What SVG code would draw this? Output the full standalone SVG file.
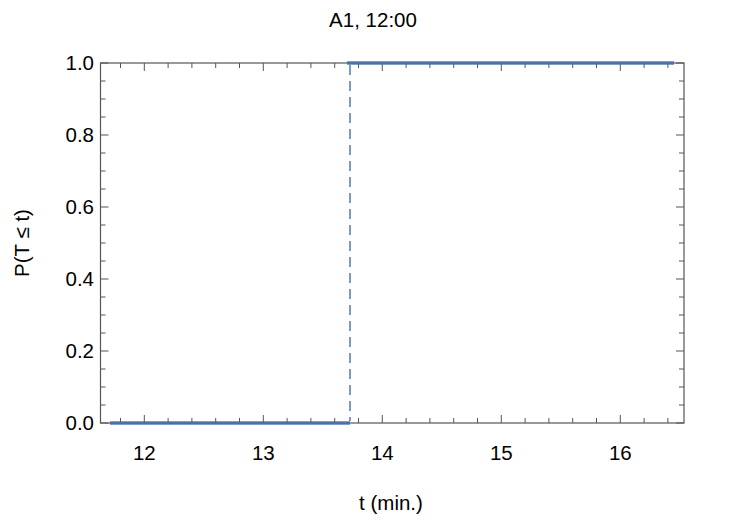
<svg xmlns="http://www.w3.org/2000/svg" width="747" height="523" viewBox="0 0 747 523">
<style>
text{font-family:"Liberation Sans",Arial,sans-serif;font-size:20.5px;fill:#000}
.tk{stroke:#555;stroke-width:1}
.fr{fill:none;stroke:#555;stroke-width:1.2}
.cdf{stroke:#3f6aa8;stroke-width:3.5;fill:none;opacity:0.85}
</style>
<rect width="747" height="523" fill="#fff"/>
<g id="frame">
<rect class="fr" x="100.5" y="63" width="583.5" height="360"/>
<path class="tk" d="M144.3 423v-8M263.3 423v-8M382.3 423v-8M501.3 423v-8M620.3 423v-8M144.3 63v8M263.3 63v8M382.3 63v8M501.3 63v8M620.3 63v8
M120.5 423v-5M168.1 423v-5M191.9 423v-5M215.7 423v-5M239.5 423v-5M287.1 423v-5M310.9 423v-5M334.7 423v-5M358.5 423v-5M406.1 423v-5M429.9 423v-5M453.7 423v-5M477.5 423v-5M525.1 423v-5M548.9 423v-5M572.7 423v-5M596.5 423v-5M644.1 423v-5M667.9 423v-5
M120.5 63v5M168.1 63v5M191.9 63v5M215.7 63v5M239.5 63v5M287.1 63v5M310.9 63v5M334.7 63v5M358.5 63v5M406.1 63v5M429.9 63v5M453.7 63v5M477.5 63v5M525.1 63v5M548.9 63v5M572.7 63v5M596.5 63v5M644.1 63v5M667.9 63v5
M100.5 63h8M100.5 135h8M100.5 207h8M100.5 279h8M100.5 351h8M100.5 423h8
M684 63h-8M684 135h-8M684 207h-8M684 279h-8M684 351h-8M684 423h-8
M100.5 81h5M100.5 99h5M100.5 117h5M100.5 153h5M100.5 171h5M100.5 189h5M100.5 225h5M100.5 243h5M100.5 261h5M100.5 297h5M100.5 315h5M100.5 333h5M100.5 369h5M100.5 387h5M100.5 405h5
M684 81h-5M684 99h-5M684 117h-5M684 153h-5M684 171h-5M684 189h-5M684 225h-5M684 243h-5M684 261h-5M684 297h-5M684 315h-5M684 333h-5M684 369h-5M684 387h-5M684 405h-5"/>
</g>
<g id="curve">
<path class="cdf" d="M110 423H350M347 63H674"/>
<path d="M350 65V421" stroke="#4a78c0" stroke-width="1.5" stroke-dasharray="10,6"/>
</g>
<g id="labels">
<g text-anchor="end">
<text x="94" y="70">1.0</text><text x="94" y="142">0.8</text><text x="94" y="214">0.6</text><text x="94" y="286">0.4</text><text x="94" y="358">0.2</text><text x="94" y="430">0.0</text>
</g>
<g text-anchor="middle">
<text x="144.3" y="460">12</text><text x="263.3" y="460">13</text><text x="382.3" y="460">14</text><text x="501.3" y="460">15</text><text x="620.3" y="460">16</text>
<text x="373" y="27">A1, 12:00</text>
<text x="391" y="510">t (min.)</text>
<text transform="translate(29 243) rotate(-90)">P(T ≤ t)</text>
</g>
</g>
</svg>
